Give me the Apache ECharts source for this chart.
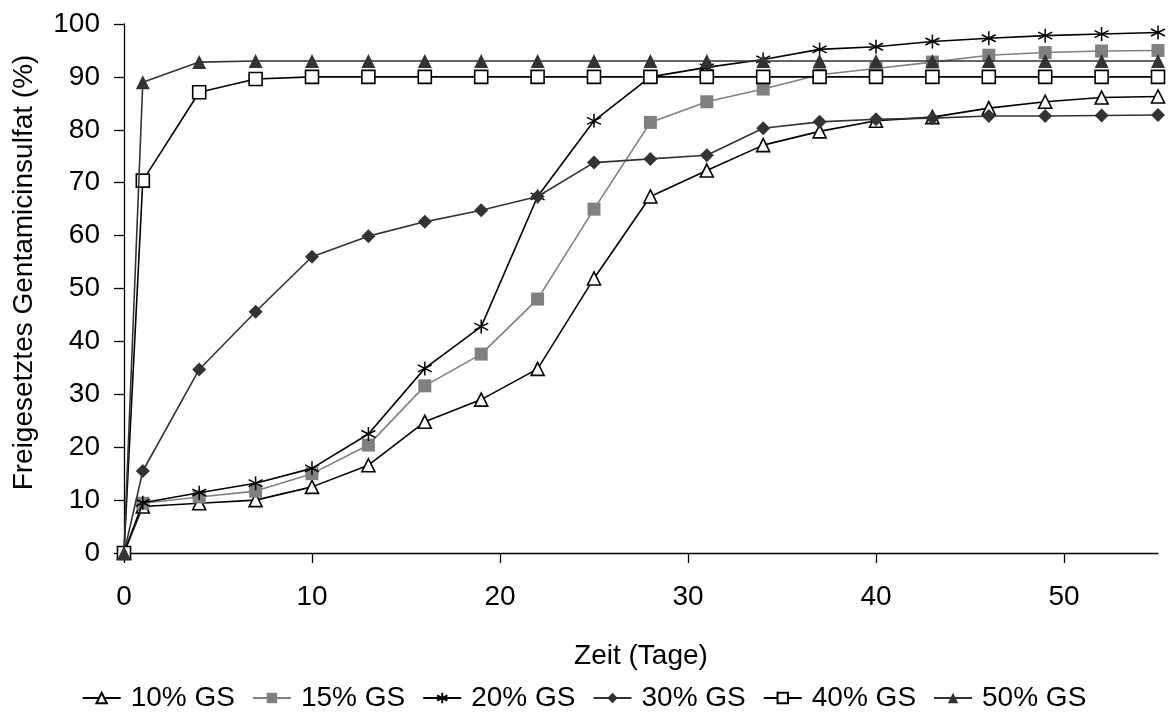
<!DOCTYPE html>
<html>
<head>
<meta charset="utf-8">
<script src="https://cdn.jsdelivr.net/npm/echarts@6/dist/echarts.min.js"></script>
<style>
html,body{margin:0;padding:0;background:#fff;}
#chart{width:1168px;height:713px;}
</style>
</head>
<body>
<div id="chart"></div>
<script>
var days = [0, 1, 4, 7, 10, 13, 16, 19, 22, 25, 28, 31, 34, 37, 40, 43, 46, 49, 52, 55];
var gs10 = [0, 8.8, 9.4, 10.0, 12.5, 16.6, 24.8, 29.0, 34.8, 51.9, 67.4, 72.3, 77.1, 79.7, 81.7, 82.4, 84.1, 85.3, 86.1, 86.3];
var gs15 = [0, 9.4, 10.6, 11.7, 15.0, 20.4, 31.6, 37.6, 48.0, 65.0, 81.4, 85.3, 87.7, 90.4, 91.6, 92.8, 94.1, 94.6, 94.9, 95.0];
var gs20 = [0, 9.5, 11.4, 13.2, 16.0, 22.5, 34.9, 42.8, 67.4, 81.7, 90.0, 91.8, 93.3, 95.2, 95.7, 96.7, 97.3, 97.8, 98.1, 98.4];
var gs30 = [0, 15.5, 34.7, 45.6, 56.0, 59.9, 62.6, 64.8, 67.4, 73.8, 74.5, 75.2, 80.3, 81.5, 82.0, 82.2, 82.6, 82.6, 82.7, 82.8];
var gs40 = [0, 70.4, 87.1, 89.6, 90.0, 90.0, 90.0, 90.0, 90.0, 90.0, 90.0, 90.0, 90.0, 90.0, 90.0, 90.0, 90.0, 90.0, 90.0, 90.0];
var gs50 = [0, 89.0, 92.8, 93.0, 93.0, 93.0, 93.0, 93.0, 93.0, 93.0, 93.0, 93.0, 93.0, 93.0, 93.0, 93.0, 93.0, 93.0, 93.0, 93.0];
var seriesNames = ['10% GS', '15% GS', '20% GS', '30% GS', '40% GS', '50% GS'];
var xTicks = [0, 10, 20, 30, 40, 50];
var yTicks = [0, 10, 20, 30, 40, 50, 60, 70, 80, 90, 100];

var FONT = 'Liberation Sans, Arial, sans-serif';
var FS = 28;
var STAR = 'path://M0,-10L0,10M-8.66,-5L8.66,5M-8.66,5L8.66,-5';

function pairs(vals) {
  return days.map(function (d, i) { return [d, vals[i]]; });
}

var styles = [
  {data: gs10, line: '#000', symbol: 'triangle', fill: '#fff', border: '#000', bw: 1.6, size: 13},
  {data: gs15, line: '#808080', symbol: 'rect', fill: '#808080', border: '#808080', bw: 0, size: 13},
  {data: gs20, line: '#000', symbol: STAR, fill: 'none', border: '#000', bw: 1.5, size: 14},
  {data: gs30, line: '#333', symbol: 'diamond', fill: '#333', border: '#333', bw: 0, size: 14},
  {data: gs40, line: '#000', symbol: 'rect', fill: '#fff', border: '#000', bw: 1.6, size: 13},
  {data: gs50, line: '#333', symbol: 'triangle', fill: '#333', border: '#333', bw: 0, size: 14}
];

var series = styles.map(function (s, i) {
  return {
    name: seriesNames[i],
    type: 'line',
    data: pairs(s.data),
    symbol: s.symbol,
    symbolSize: s.size,
    showAllSymbol: true,
    lineStyle: {color: s.line, width: 1.6},
    itemStyle: {color: s.fill, borderColor: s.border, borderWidth: s.bw},
    emphasis: {disabled: true},
    animation: false,
    z: 2 + i
  };
});

var chart = echarts.init(document.getElementById('chart'));
chart.setOption({
  backgroundColor: '#fff',
  animation: false,
  grid: {left: 124, right: 10, top: 24, bottom: 160, containLabel: false},
  legend: {
    top: 684,
    left: 'center',
    padding: 0,
    itemWidth: 38,
    itemHeight: 13,
    itemGap: 17,
    textStyle: {fontFamily: FONT, fontSize: FS, color: '#000', padding: [0, 0, 0, 5]},
    data: seriesNames
  },
  xAxis: {
    type: 'value',
    min: 0,
    max: 55,
    interval: 10,
    name: 'Zeit (Tage)',
    nameLocation: 'middle',
    nameGap: 89,
    nameTextStyle: {fontFamily: FONT, fontSize: FS, color: '#000'},
    axisLine: {show: true, onZero: false, lineStyle: {color: '#000', width: 1.3}},
    axisTick: {show: true, inside: false, length: 10, customValues: xTicks, lineStyle: {color: '#000', width: 1.3}},
    axisLabel: {customValues: xTicks, margin: 30, fontFamily: FONT, fontSize: FS, color: '#000'},
    splitLine: {show: false}
  },
  yAxis: {
    type: 'value',
    min: 0,
    max: 100,
    interval: 10,
    name: 'Freigesetztes Gentamicinsulfat (%)',
    nameLocation: 'middle',
    nameGap: 86,
    nameTextStyle: {fontFamily: FONT, fontSize: FS, color: '#000', padding: [0, 0, 0, 32]},
    axisLine: {show: true, lineStyle: {color: '#000', width: 1.3}},
    axisTick: {show: true, inside: false, length: 10, customValues: yTicks, lineStyle: {color: '#000', width: 1.3}},
    axisLabel: {customValues: yTicks, margin: 24, fontFamily: FONT, fontSize: FS, color: '#000'},
    splitLine: {show: false}
  },
  series: series
});
</script>
</body>
</html>
